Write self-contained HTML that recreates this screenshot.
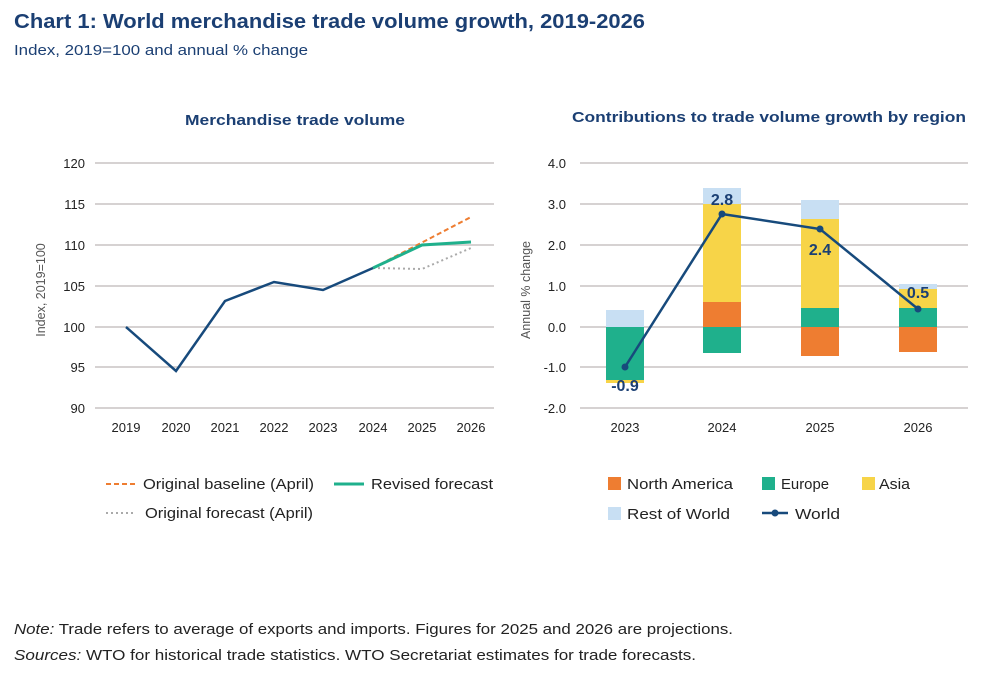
<!DOCTYPE html>
<html><head><meta charset="utf-8"><style>
body{margin:0;background:#fff;font-family:"Liberation Sans",sans-serif;}
</style></head><body>
<svg width="1000" height="682" xmlns="http://www.w3.org/2000/svg" font-family="Liberation Sans, sans-serif">
<text x="14" y="28" font-size="20" font-weight="bold" fill="#1b3f73" textLength="631" lengthAdjust="spacingAndGlyphs">Chart 1: World merchandise trade volume growth, 2019-2026</text>
<text x="14" y="55" font-size="14.5" fill="#1b3f73" textLength="294" lengthAdjust="spacingAndGlyphs">Index, 2019=100 and annual % change</text>
<text x="185" y="125" font-size="15" font-weight="bold" fill="#1b3f73" textLength="220" lengthAdjust="spacingAndGlyphs">Merchandise trade volume</text>
<text x="572" y="122" font-size="15" font-weight="bold" fill="#1b3f73" textLength="394" lengthAdjust="spacingAndGlyphs">Contributions to trade volume growth by region</text>
<g stroke="#c8c4c4" stroke-width="1.5">
<line x1="95" x2="494" y1="163" y2="163"/><line x1="95" x2="494" y1="204" y2="204"/><line x1="95" x2="494" y1="245" y2="245"/><line x1="95" x2="494" y1="286" y2="286"/><line x1="95" x2="494" y1="327" y2="327"/><line x1="95" x2="494" y1="367" y2="367"/><line x1="95" x2="494" y1="408" y2="408"/>
<line x1="580" x2="968" y1="163" y2="163"/><line x1="580" x2="968" y1="204" y2="204"/><line x1="580" x2="968" y1="245" y2="245"/><line x1="580" x2="968" y1="286" y2="286"/><line x1="580" x2="968" y1="327" y2="327"/><line x1="580" x2="968" y1="367" y2="367"/><line x1="580" x2="968" y1="408" y2="408"/>
</g>
<g font-size="13" fill="#222" text-anchor="end">
<text x="85" y="168">120</text><text x="85" y="209">115</text><text x="85" y="250">110</text><text x="85" y="291">105</text><text x="85" y="332">100</text><text x="85" y="372">95</text><text x="85" y="413">90</text>
<text x="566" y="168">4.0</text><text x="566" y="209">3.0</text><text x="566" y="250">2.0</text><text x="566" y="291">1.0</text><text x="566" y="332">0.0</text><text x="566" y="372">-1.0</text><text x="566" y="413">-2.0</text>
</g>
<g font-size="13" fill="#222" text-anchor="middle">
<text x="126" y="432">2019</text><text x="176" y="432">2020</text><text x="225" y="432">2021</text><text x="274" y="432">2022</text><text x="323" y="432">2023</text><text x="373" y="432">2024</text><text x="422" y="432">2025</text><text x="471" y="432">2026</text>
<text x="625" y="432">2023</text><text x="722" y="432">2024</text><text x="820" y="432">2025</text><text x="918" y="432">2026</text>
</g>
<text transform="translate(45,290) rotate(-90)" font-size="12.5" fill="#555" text-anchor="middle">Index, 2019=100</text>
<text transform="translate(530,290) rotate(-90)" font-size="12.5" fill="#555" text-anchor="middle">Annual % change</text>
<polyline points="373,268 422,269 471,248" fill="none" stroke="#aaa" stroke-width="2" stroke-dasharray="2,3"/>
<polyline points="373,268 471,217" fill="none" stroke="#ee7d31" stroke-width="2" stroke-dasharray="5,3"/>
<polyline points="373,268 422,245 471,242" fill="none" stroke="#1fb08c" stroke-width="3"/>
<polyline points="126,327 176,371 225,301 274,282 323,290 373,268" fill="none" stroke="#174a7c" stroke-width="2.5"/>
<g>
<rect x="606" y="310" width="38" height="17" fill="#c8dff3"/>
<rect x="606" y="327" width="38" height="53" fill="#1fb08c"/>
<rect x="606" y="380" width="38" height="3" fill="#f7d448"/>
<rect x="703" y="188" width="38" height="16" fill="#c8dff3"/>
<rect x="703" y="204" width="38" height="98" fill="#f7d448"/>
<rect x="703" y="302" width="38" height="25" fill="#ee7d31"/>
<rect x="703" y="327" width="38" height="26" fill="#1fb08c"/>
<rect x="801" y="200" width="38" height="19" fill="#c8dff3"/>
<rect x="801" y="219" width="38" height="89" fill="#f7d448"/>
<rect x="801" y="308" width="38" height="19" fill="#1fb08c"/>
<rect x="801" y="327" width="38" height="29" fill="#ee7d31"/>
<rect x="899" y="284" width="38" height="5" fill="#c8dff3"/>
<rect x="899" y="289" width="38" height="19" fill="#f7d448"/>
<rect x="899" y="308" width="38" height="19" fill="#1fb08c"/>
<rect x="899" y="327" width="38" height="25" fill="#ee7d31"/>
</g>
<polyline points="625,367 722,214 820,229 918,309" fill="none" stroke="#174a7c" stroke-width="2.5"/>
<g fill="#174a7c"><circle cx="625" cy="367" r="3.5"/><circle cx="722" cy="214" r="3.5"/><circle cx="820" cy="229" r="3.5"/><circle cx="918" cy="309" r="3.5"/></g>
<g font-size="16" font-weight="bold" fill="#1b3f73" text-anchor="middle">
<text x="625" y="391">-0.9</text><text x="722" y="205">2.8</text><text x="820" y="255">2.4</text><text x="918" y="298">0.5</text>
</g>
<g font-size="15" fill="#222">
<line x1="106" x2="136" y1="484" y2="484" stroke="#ee7d31" stroke-width="2" stroke-dasharray="5,3"/>
<text x="143" y="489" textLength="171" lengthAdjust="spacingAndGlyphs">Original baseline (April)</text>
<line x1="334" x2="364" y1="484" y2="484" stroke="#1fb08c" stroke-width="3"/>
<text x="371" y="489" textLength="122" lengthAdjust="spacingAndGlyphs">Revised forecast</text>
<line x1="106" x2="136" y1="513" y2="513" stroke="#aaa" stroke-width="2" stroke-dasharray="2,3"/>
<text x="145" y="518" textLength="168" lengthAdjust="spacingAndGlyphs">Original forecast (April)</text>
<rect x="608" y="477" width="13" height="13" fill="#ee7d31"/><text x="627" y="489" textLength="106" lengthAdjust="spacingAndGlyphs">North America</text>
<rect x="762" y="477" width="13" height="13" fill="#1fb08c"/><text x="781" y="489" textLength="48" lengthAdjust="spacingAndGlyphs">Europe</text>
<rect x="862" y="477" width="13" height="13" fill="#f7d448"/><text x="879" y="489" textLength="31" lengthAdjust="spacingAndGlyphs">Asia</text>
<rect x="608" y="507" width="13" height="13" fill="#c8dff3"/><text x="627" y="519" textLength="103" lengthAdjust="spacingAndGlyphs">Rest of World</text>
<line x1="762" x2="788" y1="513" y2="513" stroke="#174a7c" stroke-width="2.5"/><circle cx="775" cy="513" r="3.5" fill="#174a7c"/>
<text x="795" y="519" textLength="45" lengthAdjust="spacingAndGlyphs">World</text>
</g>
<g font-size="15" fill="#222">
<text x="14" y="634" textLength="719" lengthAdjust="spacingAndGlyphs"><tspan font-style="italic">Note:</tspan> Trade refers to average of exports and imports. Figures for 2025 and 2026 are projections.</text>
<text x="14" y="660" textLength="682" lengthAdjust="spacingAndGlyphs"><tspan font-style="italic">Sources:</tspan> WTO for historical trade statistics. WTO Secretariat estimates for trade forecasts.</text>
</g>
</svg>
</body></html>
